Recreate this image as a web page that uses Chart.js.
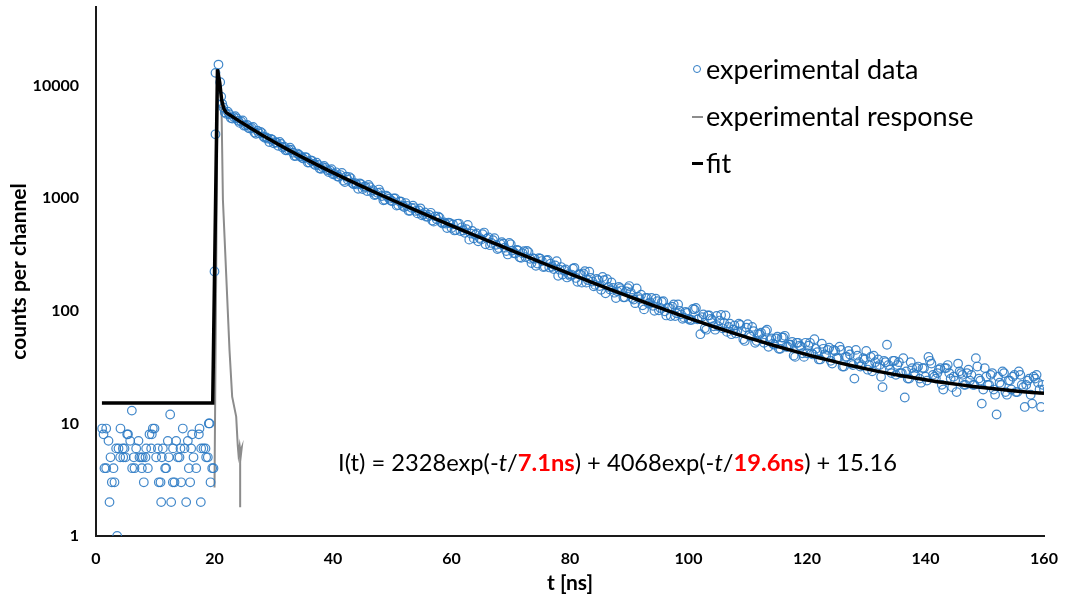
<!DOCTYPE html>
<html>
<head>
<meta charset="utf-8">
<title>Decaimiento de fluorescencia</title>
<script src="https://cdn.jsdelivr.net/npm/chart.js@4.4.1/dist/chart.umd.min.js"></script>
<style>
  html, body { margin: 0; padding: 0; background: #fff; }
  #wrap { position: relative; width: 1065px; height: 597px; font-family: Lato, "Open Sans", sans-serif; color: #000; }
  #grafico { position: absolute; left: 0; top: 0; }
  .leyenda { position: absolute; left: 690px; top: 54px; font-size: 27px; }
  .leyenda .fila { position: relative; height: 47px; line-height: 30px; padding-left: 16px; white-space: nowrap; }
  .marca-circulo { position: absolute; left: 3px; top: 11px; width: 6px; height: 6px; border: 1.2px solid #2e7bc4; border-radius: 50%; }
  .marca-linea { position: absolute; left: 2px; width: 11px; }
  #ecuacion { position: absolute; left: 338px; top: 448px; font-size: 23.7px; line-height: 28px; white-space: nowrap; }
  #ecuacion b { color: #ff0000; }
</style>
</head>
<body>
<div id="wrap">
  <canvas id="grafico" width="1065" height="597"></canvas>
  <div class="leyenda">
    <div class="fila"><span class="marca-circulo"></span>experimental data</div>
    <div class="fila"><span class="marca-linea" style="top:15px;height:2px;background:#8c8c8c"></span>experimental response</div>
    <div class="fila"><span class="marca-linea" style="top:14px;height:3px;background:#000"></span>fit</div>
  </div>
  <div id="ecuacion">I(t) = 2328exp(-<i>t</i>/<b>7.1ns</b>) + 4068exp(-<i>t</i>/<b>19.6ns</b>) + 15.16</div>
</div>
<script>
// === Datos ===
// fondo antes del pulso + subida (ns, cuentas)
const tiemposFondo = [1.04, 1.27, 1.43, 1.72, 1.72, 2.11, 2.28, 2.45, 2.67, 2.95, 3.12, 3.40, 3.57, 3.80, 4.08, 4.13,
  4.53, 4.60, 4.81, 4.98, 5.26, 5.40, 5.77, 6.05, 6.10, 6.39, 6.50, 6.78, 7.17, 7.34, 7.62, 7.74, 7.90, 8.07, 8.35,
  8.47, 8.75, 9.03, 9.31, 9.42, 9.59, 9.87, 10.15, 10.44, 10.60, 10.89, 11.00, 11.11, 11.28, 11.67, 11.84, 12.12,
  12.29, 12.52, 12.69, 12.97, 13.00, 13.25, 13.53, 13.81, 14.09, 14.26, 14.37, 14.65, 14.94, 15.22, 15.50, 15.67,
  15.89, 16.06, 16.23, 16.46, 16.91, 17.36, 17.47, 17.69, 17.75, 18.14, 18.48, 18.59, 18.87, 19.04, 19.16, 19.33,
  19.61, 19.83, 20.0, 20.17, 20.17, 20.67, 20.96, 21.13, 21.3];
const cuentasFondo = [9, 8, 4, 9, 4, 7, 2, 5, 3, 4, 3, 6, 1, 6, 5, 9,
  6, 5, 6, 5, 8, 8, 7, 13, 4, 5, 4, 6, 7, 5, 5, 4, 5, 3, 5,
  6, 4, 8, 6, 8, 9, 9, 5, 6, 3, 3, 2, 5, 6, 4, 4, 7,
  5, 12, 2, 3, 6, 3, 7, 5, 5, 6, 3, 9, 6, 2, 7, 4,
  3, 6, 8, 5, 4, 8, 9, 2, 6, 6, 6, 5, 5, 10, 10, 3,
  4, 4, 224, 3700, 13000, 15400, 10750, 8000, 6900];

// decaimiento: canales cada 0.5 ns desde 21.5 ns ...
const inicioDecaimiento = 21.5;
const pasoDecaimiento = 0.5;
const cuentasDecaimiento = [
  6400, 5620, 5585, 5110, 5360, 4875, 4810, 4410, 4490, 4155, 4300, 3740, 3786, 3795, 3440, 3380, 3365, 3075, 3120,
  3160, 2825, 2665, 2710, 2685, 2375, 2495, 2362, 2250, 2305, 2080, 2150, 1975, 1975, 1825, 1935, 1780, 1770, 1635,
  1700, 1555, 1678, 1395, 1461, 1505, 1330, 1326, 1352, 1208, 1264, 1315, 1139, 1068, 1118, 1127, 958, 1056, 991, 942,
  996, 871, 934, 836, 855, 774, 860, 772, 779, 705, 748, 686, 743, 620, 651, 672, 596, 595, 608, 545,
  518, 593, 511, 517, 531, 429, 513, 475, 415, 429, 496, 438, 383, 425, 386, 362, 407, 364, 317, 390,
  326, 348, 299, 325, 300, 331, 266, 290, 263, 291, 245, 281, 243, 246, 253, 205, 245, 228, 198, 205,
  237, 196, 212, 178, 225, 188, 196, 165, 192, 166, 200, 143, 163, 179, 145, 149, 159, 132, 149, 166,
  130, 117, 133, 139, 103, 130, 119, 111, 128, 101, 120, 99, 107, 90, 114, 95, 100, 85, 98, 85,
  83, 103, 84, 62, 93, 68, 91, 83, 68, 73, 92, 78, 65, 77, 68, 63, 77, 66, 54, 76,
  59, 66, 54, 62, 56, 66, 48, 57, 50, 59, 46, 58, 48, 50, 53, 39, 52, 48, 39, 42,
  52, 41, 46, 37, 51, 41, 45, 36, 45, 38, 48, 32, 39, 44, 34, 25, 40, 32, 38, 44,
  33, 29, 35, 37, 26, 36, 50, 30, 36, 27, 35, 28, 17, 25, 35, 28, 31, 25, 31, 26,
  39, 34, 26, 28, 31, 20, 31, 28, 21, 24, 34, 28, 22, 28, 24, 22, 38, 25, 15, 31,
  22, 27, 20, 12, 23, 29, 19, 24, 20, 27, 19, 27, 21, 22, 25, 15, 25, 23, 14, 20];

// ... y los canales intermedios, desde 21.75 ns
const inicioDecaimientoB = 21.75;
const cuentasDecaimientoB = [
  5790, 5876, 5169, 5262, 5135, 4671, 4905, 4434, 4202, 4214, 3840, 3979, 3896, 3531, 3465, 3159, 3309, 3147, 2922,
  3036, 2867, 2664, 2812, 2540, 2378, 2438, 2288, 2324, 2078, 2168, 2020, 2071, 1838, 1889, 1863, 1710, 1810,
  1645, 1559, 1608, 1434, 1553, 1544, 1366, 1361, 1212, 1333, 1266, 1159, 1254, 1179, 1080, 1195, 1047, 970, 1029, 955,
  998, 860, 936, 858, 907, 774, 822, 819, 734, 814, 722, 686, 711, 635, 691, 688, 611, 610, 544, 600,
  586, 522, 596, 552, 493, 579, 486, 440, 487, 443, 479, 390, 449, 401, 442, 354, 392, 395, 340, 401,
  343, 323, 344, 296, 339, 341, 290, 294, 251, 294, 277, 247, 283, 263, 235, 276, 232, 210, 233, 212,
  210, 241, 181, 211, 215, 178, 223, 182, 170, 187, 154, 187, 191, 155, 160, 130, 163, 152, 132, 159,
  146, 126, 158, 127, 112, 130, 116, 130, 100, 122, 106, 122, 91, 106, 109, 90, 114, 93, 87, 96,
  83, 104, 106, 85, 88, 70, 91, 85, 73, 90, 82, 70, 91, 72, 62, 74, 66, 75, 56, 71,
  61, 72, 52, 62, 64, 52, 68, 55, 51, 57, 46, 58, 60, 48, 50, 40, 52, 49, 42, 52,
  49, 42, 56, 43, 37, 46, 40, 47, 34, 44, 38, 45, 32, 39, 41, 33, 45, 35, 33, 37,
  30, 39, 40, 32, 33, 21, 35, 33, 28, 36, 33, 28, 38, 29, 25, 31, 27, 32, 23, 31,
  24, 36, 27, 25, 30, 22, 31, 33, 25, 26, 19, 29, 27, 22, 30, 27, 22, 32, 24, 20,
  26, 22, 28, 18, 26, 22, 28, 18, 24, 26, 19, 29, 22, 14, 24, 18, 26, 27, 20, 22];

// respuesta del instrumento (gris)
const tiemposRespuesta = [20.0, 20.55, 21.0, 21.2, 21.42, 22.53, 22.98, 23.66, 23.93, 24.05, 24.25, 24.45, 24.6, 24.33, 24.33];
const cuentasRespuesta = [2.7, 14000, 9000, 5700, 970, 45, 17.3, 11.5, 6.3, 5.3, 6.3, 5.2, 6.1, 5.6, 1.8];

// ajuste biexponencial (negro)
const tiemposAjuste = [1, 19.7, 20.5, 20.9, 21.2, 21.6, 22, 24, 26, 28, 30, 32, 34, 36, 38, 40, 42, 44, 46, 48, 50,
  52, 54, 56, 58, 60, 62, 64, 66, 68, 70, 72, 74, 76, 78, 80, 82, 84, 86, 88, 90, 92, 94, 96, 98, 100,
  102, 104, 106, 108, 110, 112, 114, 116, 118, 120, 122, 124, 126, 128, 130, 132, 134, 136, 138, 140,
  142, 144, 146, 148, 150, 152, 154, 156, 158, 160];
const cuentasAjuste = [15.16, 15.16, 14000, 10500, 7500, 6200, 5761, 4916, 4223, 3651, 3175, 2775, 2437, 2149, 1902,
  1689, 1503, 1342, 1200, 1075, 965, 867, 781, 703, 634, 572, 517, 467, 423, 383, 346, 314, 285, 258, 235, 213,
  194, 176, 161, 146.5, 133.8, 122.3, 111.9, 102.5, 94.0, 86.3, 79.4, 73.2, 67.6, 62.5, 57.9, 53.8, 50.0, 46.6,
  43.6, 40.8, 38.3, 36.1, 34.0, 32.2, 30.5, 29.0, 27.7, 26.5, 25.4, 24.4, 23.5, 22.7, 22.0, 21.3, 20.7, 20.2,
  19.7, 19.2, 18.8, 18.5];

const ticksX = [0, 20, 40, 60, 80, 100, 120, 140, 160];
const ticksY = [1, 10, 100, 1000, 10000];

// === Armar puntos ===
const aPuntos = (xs, ys) => xs.map((x, i) => ({ x, y: ys[i] }));
const aCanales = (inicio, cuentas) => cuentas.map((c, i) => ({ x: inicio + i * pasoDecaimiento, y: c }));

const puntosExperimentales = aPuntos(tiemposFondo, cuentasFondo)
  .concat(aCanales(inicioDecaimiento, cuentasDecaimiento))
  .concat(aCanales(inicioDecaimientoB, cuentasDecaimientoB));

// === Dibujar gráfico ===
Chart.defaults.font.family = "Lato, 'Open Sans', sans-serif";
Chart.defaults.color = "#000";

const fuenteEje = { family: "Lato", size: 16, weight: "bold" };
const fuenteTitulo = { family: "Lato", size: 21, weight: "bold", lineHeight: 1.2 };

const ctx = document.getElementById("grafico").getContext("2d");

new Chart(ctx, {
  type: "scatter",
  data: {
    datasets: [
      {
        label: "fit",
        data: aPuntos(tiemposAjuste, cuentasAjuste),
        showLine: true,
        borderColor: "#000",
        borderWidth: 3.5,
        pointRadius: 0,
        order: 0
      },
      {
        label: "experimental data",
        data: puntosExperimentales,
        showLine: false,
        pointRadius: 4.3,
        pointBorderWidth: 1.2,
        borderColor: "rgba(46, 123, 196, 0.9)",
        backgroundColor: "rgba(0, 0, 0, 0)",
        order: 1
      },
      {
        label: "experimental response",
        data: aPuntos(tiemposRespuesta, cuentasRespuesta),
        showLine: true,
        borderColor: "#8c8c8c",
        borderWidth: 2,
        pointRadius: 0,
        order: 2
      }
    ]
  },
  options: {
    responsive: false,
    animation: false,
    devicePixelRatio: 1,
    layout: { padding: { top: 7, right: 21, left: 0, bottom: 0 } },
    plugins: {
      legend: { display: false },
      tooltip: { enabled: false }
    },
    scales: {
      x: {
        type: "linear",
        min: 0,
        max: 160,
        afterBuildTicks: (s) => { s.ticks = ticksX.map(v => ({ value: v })); },
        afterFit: (s) => { s.height = 61; s.paddingLeft = 0; s.paddingRight = 0; },
        ticks: { padding: 13, font: fuenteEje, color: "#000" },
        grid: { display: false, drawTicks: false },
        border: { display: true, color: "#1a1a1a", width: 2 },
        title: { display: true, text: "t [ns]", font: fuenteTitulo, color: "#000", padding: { top: 1, bottom: 1 } }
      },
      y: {
        type: "logarithmic",
        min: 1,
        max: 50000,
        afterBuildTicks: (s) => { s.ticks = ticksY.map(v => ({ value: v })); },
        afterFit: (s) => { s.width = 96; s.paddingTop = 0; s.paddingBottom = 0; },
        ticks: { padding: 17, font: fuenteEje, color: "#000", callback: (v) => String(v) },
        grid: { display: false, drawTicks: false },
        border: { display: true, color: "#1a1a1a", width: 2 },
        title: { display: true, text: "counts per channel", font: fuenteTitulo, color: "#000", padding: { top: 7, bottom: 7 } }
      }
    }
  }
});
</script>
</body>
</html>
